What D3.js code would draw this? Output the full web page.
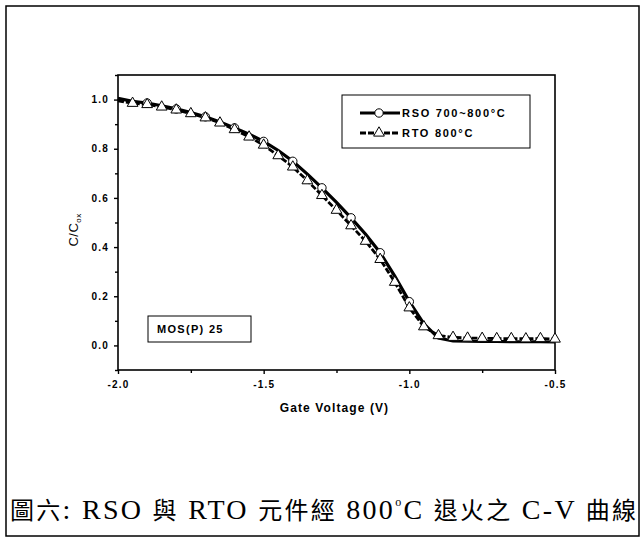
<!DOCTYPE html>
<html>
<head>
<meta charset="utf-8">
<script src="https://cdn.jsdelivr.net/npm/d3@7"></script>
<style>
  body { margin: 0; background: #fff; }
  text { font-family: "Liberation Sans", Arial, sans-serif; fill: #000; }
</style>
</head>
<body>
<div id="app"></div>
<script>
// gate voltage steps (V)
const voltages = [-2.00, -1.95, -1.90, -1.85, -1.80, -1.75, -1.70, -1.65, -1.60, -1.55, -1.50,
                  -1.45, -1.40, -1.35, -1.30, -1.25, -1.20, -1.15, -1.10, -1.05, -1.00,
                  -0.95, -0.90, -0.85, -0.80, -0.75, -0.70, -0.65, -0.60, -0.55, -0.50];
// C/Cox
const rsoValues = [1.005, 0.993, 0.986, 0.975, 0.962, 0.947, 0.930, 0.909, 0.885, 0.859, 0.830,
                   0.793, 0.749, 0.697, 0.641, 0.582, 0.519, 0.452, 0.377, 0.282, 0.178,
                   0.088, 0.030, 0.018, 0.017, 0.016, 0.016, 0.015, 0.015, 0.015, 0.014];
const rtoValues = [0.995, 0.985, 0.980, 0.970, 0.958, 0.943, 0.926, 0.905, 0.878, 0.848, 0.815,
                   0.772, 0.726, 0.670, 0.610, 0.550, 0.487, 0.424, 0.350, 0.257, 0.153,
                   0.076, 0.040, 0.033, 0.030, 0.029, 0.028, 0.028, 0.027, 0.028, 0.026];
const seriesNames = ["RSO 700~800°C", "RTO 800°C"];
const xTicks = [-2.0, -1.5, -1.0, -0.5];
const xMinorTicks = [-1.75, -1.25, -0.75];
const yTicks = [0.0, 0.2, 0.4, 0.6, 0.8, 1.0];
const yMinorTicks = [-0.1, 0.1, 0.3, 0.5, 0.7, 0.9, 1.1];
const noteText = "MOS(P) 25";
// caption pieces: [text, kind]
const captionParts = [["圖六", "cjk"], [": RSO ", "lat"], ["與", "cjk"], [" RTO ", "lat"],
                      ["元件經", "cjk"], [" 800", "lat"], ["o", "sup"], ["C ", "lat"],
                      ["退火之", "cjk"], [" C-V ", "lat"], ["曲線", "cjk"]];

const W = 642, H = 538;
const margin = {top: 75, right: 87, bottom: 168, left: 118};
const width = W - margin.left - margin.right;
const height = H - margin.top - margin.bottom;

const svg = d3.select("#app").append("svg")
    .attr("width", W)
    .attr("height", H);

// outer figure border
svg.append("rect")
    .attr("x", 6).attr("y", 6)
    .attr("width", 633).attr("height", 530)
    .attr("fill", "none").attr("stroke", "#000").attr("stroke-width", 1.5);

const g = svg.append("g")
    .attr("transform", "translate(" + margin.left + "," + margin.top + ")");

const x = d3.scaleLinear().domain([-2.0, -0.5]).range([0, width]);
const y = d3.scaleLinear().domain([-0.1, 1.1]).range([height, 0]);

// axes
const xAxis = g.append("g")
    .attr("transform", "translate(0," + height + ")")
    .call(d3.axisBottom(x).tickValues(xTicks).tickSize(4).tickPadding(7).tickFormat(d3.format(".1f")));
g.append("g")
    .attr("transform", "translate(0," + height + ")")
    .call(d3.axisBottom(x).tickValues(xMinorTicks).tickSize(3).tickFormat(""));
const yAxis = g.append("g")
    .call(d3.axisLeft(y).tickValues(yTicks).tickSize(4).tickPadding(5).tickFormat(d3.format(".1f")));
g.append("g")
    .call(d3.axisLeft(y).tickValues(yMinorTicks).tickSize(3).tickFormat(""));

g.selectAll(".domain").remove();
g.selectAll(".tick line").attr("stroke", "#000").attr("stroke-width", 1.4);
g.selectAll(".tick text")
    .style("font-family", "'Liberation Sans', Arial, sans-serif")
    .style("font-size", "10px")
    .style("font-weight", "bold")
    .style("letter-spacing", "1.2px")
    .attr("fill", "#000");
xAxis.selectAll(".tick text").text(d => d3.format(".1f")(d).replace("−", "-"));

// plot frame
g.append("rect")
    .attr("width", width).attr("height", height)
    .attr("fill", "none").attr("stroke", "#000").attr("stroke-width", 1.6);

const rsoData = voltages.map((v, i) => ({v: v, c: rsoValues[i], i: i}));
const rtoData = voltages.map((v, i) => ({v: v, c: rtoValues[i], i: i}));

const line = d3.line().x(d => x(d.v)).y(d => y(d.c));

g.append("path")
    .datum(rtoData)
    .attr("fill", "none").attr("stroke", "#000")
    .attr("stroke-width", 2.8).attr("stroke-dasharray", "6,2")
    .attr("d", line);
g.append("path")
    .datum(rsoData)
    .attr("fill", "none").attr("stroke", "#000")
    .attr("stroke-width", 3.2)
    .attr("d", line);

// circle markers every 0.1 V (hidden under the triangles on the flat part)
g.selectAll(".rso-pt")
    .data(rsoData.filter(d => d.i % 2 === 0 && d.i > 0 && d.v <= -1.0))
    .enter().append("circle")
    .attr("class", "rso-pt")
    .attr("cx", d => x(d.v)).attr("cy", d => y(d.c))
    .attr("r", 4.2)
    .attr("fill", "#fff").attr("stroke", "#000").attr("stroke-width", 1);

// triangle markers every 0.05 V
const tri = d3.symbol().type(d3.symbolTriangle).size(50);
g.selectAll(".rto-pt")
    .data(rtoData.filter(d => d.i > 0))
    .enter().append("path")
    .attr("class", "rto-pt")
    .attr("transform", d => "translate(" + x(d.v) + "," + y(d.c) + ")")
    .attr("d", tri)
    .attr("fill", "#fff").attr("stroke", "#000").attr("stroke-width", 1);

// axis titles
g.append("text")
    .attr("x", width / 2 - 2).attr("y", height + 42)
    .attr("text-anchor", "middle")
    .style("font-size", "12px").style("font-weight", "bold")
    .style("letter-spacing", "1.1px")
    .text("Gate Voltage (V)");

const yTitle = g.append("text")
    .attr("transform", "translate(-40," + (y(0.47)) + ") rotate(-90)")
    .attr("text-anchor", "middle")
    .style("font-size", "13px").style("letter-spacing", "0.5px");
yTitle.append("tspan").text("C/C");
yTitle.append("tspan").attr("dy", 3).style("font-size", "8px").text("ox");

// legend
const legend = g.append("g").attr("transform", "translate(224,20)");
legend.append("rect")
    .attr("width", 188).attr("height", 53)
    .attr("fill", "#fff").attr("stroke", "#000").attr("stroke-width", 1);
seriesNames.forEach((name, k) => {
    const ly = 18 + k * 20;
    legend.append("line")
        .attr("x1", 18).attr("x2", 58).attr("y1", ly).attr("y2", ly)
        .attr("stroke", "#000").attr("stroke-width", 3)
        .attr("stroke-dasharray", k === 1 ? "6,2" : null);
    if (k === 0) {
        legend.append("circle").attr("cx", 37).attr("cy", ly).attr("r", 4.2)
            .attr("fill", "#fff").attr("stroke", "#000");
    } else {
        legend.append("path").attr("transform", "translate(37," + ly + ")")
            .attr("d", tri).attr("fill", "#fff").attr("stroke", "#000");
    }
    legend.append("text")
        .attr("x", 60).attr("y", ly + 4)
        .style("font-size", "11px").style("font-weight", "bold")
        .style("letter-spacing", "1.7px")
        .text(name);
});

// sample note
const note = g.append("g").attr("transform", "translate(30,241)");
note.append("rect")
    .attr("width", 103).attr("height", 26)
    .attr("fill", "#fff").attr("stroke", "#000").attr("stroke-width", 1);
note.append("text")
    .attr("x", 9).attr("y", 17)
    .style("font-size", "11px").style("font-weight", "bold")
    .style("letter-spacing", "1.3px")
    .text(noteText);

// figure caption
const cap = svg.append("text")
    .attr("x", 10).attr("y", 519)
    .attr("textLength", 626).attr("lengthAdjust", "spacing");
captionParts.forEach(([t, kind]) => {
    const ts = cap.append("tspan").text(t);
    if (kind === "cjk") {
        ts.style("font-family", "'Noto Sans CJK TC', sans-serif").style("font-size", "24px");
    } else if (kind === "sup") {
        ts.style("font-family", "'Liberation Serif', serif").style("font-size", "12px")
          .attr("dy", -13);
    } else {
        ts.style("font-family", "'Liberation Serif', serif").style("font-size", "28px")
          .attr("dy", t === "C " ? 13 : null);
    }
});
</script>
</body>
</html>
